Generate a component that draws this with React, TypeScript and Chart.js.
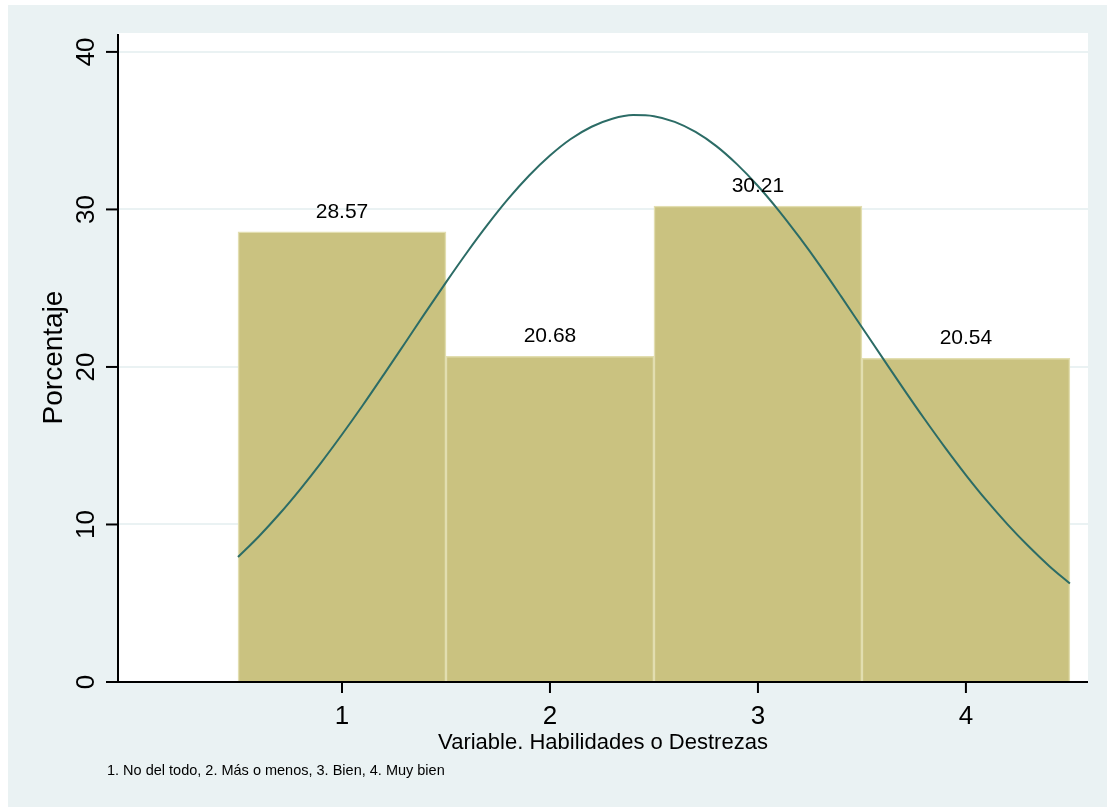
import React, { useEffect, useRef } from "react";
import { Chart, registerables } from "chart.js";

Chart.register(...registerables);

const categories = [1, 2, 3, 4];
const percentages = [28.57, 20.68, 30.21, 20.54];
const yTicks = [0, 10, 20, 30, 40];
const xTicks = [1, 2, 3, 4];
const curveX = [
  0.5, 0.6, 0.7, 0.8, 0.9, 1.0, 1.1, 1.2, 1.3, 1.4, 1.5, 1.6, 1.7, 1.8, 1.9, 2.0, 2.1, 2.2, 2.3, 2.4, 2.5,
  2.6, 2.7, 2.8, 2.9, 3.0, 3.1, 3.2, 3.3, 3.4, 3.5, 3.6, 3.7, 3.8, 3.9, 4.0, 4.1, 4.2, 4.3, 4.4, 4.5,
];
const curveY = [
  7.93, 9.24, 10.68, 12.25, 13.93, 15.71, 17.57, 19.5, 21.46, 23.43, 25.37, 27.25, 29.03, 30.68, 32.15,
  33.42, 34.47, 35.25, 35.76, 35.99, 35.92, 35.56, 34.92, 34.02, 32.86, 31.49, 29.93, 28.22, 26.4, 24.48,
  22.52, 20.56, 18.61, 16.71, 14.88, 13.14, 11.51, 10.01, 8.63, 7.37, 6.25,
];
const yTitle = "Porcentaje";
const xTitle = "Variable. Habilidades o Destrezas";
const note = "1. No del todo, 2. Más o menos, 3. Bien, 4. Muy bien";

const BG = "rgb(234,242,243)";
const FONT = "'Liberation Sans', Arial, Helvetica, sans-serif";

const stataPlugin = {
  id: "stata",
  beforeDraw(chart: any) {
    const { ctx, width, height, chartArea: ca } = chart;
    ctx.save();
    ctx.fillStyle = BG;
    ctx.fillRect(0, 0, width, height);
    ctx.fillStyle = "#ffffff";
    ctx.fillRect(ca.left, ca.top, ca.right - ca.left, ca.bottom - ca.top);
    ctx.restore();
  },
  afterDraw(chart: any) {
    const { ctx, chartArea: ca } = chart;
    const xs = chart.scales.x;
    const ys = chart.scales.y;
    ctx.save();
    ctx.strokeStyle = "#000";
    ctx.fillStyle = "#000";
    ctx.lineWidth = 2;
    // axis lines
    ctx.beginPath();
    ctx.moveTo(ca.left, ca.top + 1);
    ctx.lineTo(ca.left, ca.bottom);
    ctx.lineTo(ca.right, ca.bottom);
    ctx.stroke();
    // y ticks + labels
    ctx.font = `26px ${FONT}`;
    ctx.textAlign = "center";
    ctx.textBaseline = "alphabetic";
    yTicks.forEach((v) => {
      const py = ys.getPixelForValue(v);
      ctx.beginPath();
      ctx.moveTo(ca.left - 12, py);
      ctx.lineTo(ca.left, py);
      ctx.stroke();
      ctx.save();
      ctx.translate(ca.left - 24, py);
      ctx.rotate(-Math.PI / 2);
      ctx.fillText(String(v), 0, 0);
      ctx.restore();
    });
    // x ticks + labels
    xTicks.forEach((v) => {
      const px = xs.getPixelForValue(v);
      ctx.beginPath();
      ctx.moveTo(px, ca.bottom);
      ctx.lineTo(px, ca.bottom + 11);
      ctx.stroke();
      ctx.fillText(String(v), px, ca.bottom + 42);
    });
    // y title
    ctx.font = `28px ${FONT}`;
    ctx.save();
    ctx.translate(ca.left - 56, (ca.top + ca.bottom) / 2);
    ctx.rotate(-Math.PI / 2);
    ctx.fillText(yTitle, 0, 0);
    ctx.restore();
    // x title
    ctx.font = `22px ${FONT}`;
    ctx.fillText(xTitle, (ca.left + ca.right) / 2, ca.bottom + 67);
    // note
    ctx.font = `14.5px ${FONT}`;
    ctx.textAlign = "left";
    ctx.fillText(note, ca.left - 11, ca.bottom + 93);
    // data labels
    ctx.font = `21px ${FONT}`;
    ctx.textAlign = "center";
    categories.forEach((c, i) => {
      const px = xs.getPixelForValue(c);
      const py = ys.getPixelForValue(percentages[i]);
      ctx.fillText(percentages[i].toFixed(2), px, py - 14);
    });
    ctx.restore();
  },
};

export default function App() {
  const ref = useRef<HTMLCanvasElement | null>(null);
  useEffect(() => {
    if (!ref.current) return;
    const chart = new Chart(ref.current, {
      type: "bar",
      data: {
        datasets: [
          {
            type: "line",
            data: curveX.map((x, i) => ({ x, y: curveY[i] })),
            borderColor: "rgb(44,108,102)",
            borderWidth: 2,
            pointRadius: 0,
            cubicInterpolationMode: "monotone",
            fill: false,
            order: 0,
          } as any,
          {
            type: "bar",
            data: categories.map((c, i) => ({ x: c, y: percentages[i] })),
            backgroundColor: "rgb(202,194,128)",
            borderColor: "rgb(226,222,176)",
            borderWidth: 1.5,
            barPercentage: 1,
            categoryPercentage: 1,
            order: 1,
          } as any,
        ],
      },
      options: {
        animation: false,
        responsive: true,
        maintainAspectRatio: false,
        layout: { padding: { left: 110, right: 19, top: 28, bottom: 125 } },
        plugins: { legend: { display: false }, tooltip: { enabled: false } },
        scales: {
          x: {
            type: "linear",
            min: -0.077,
            max: 4.587,
            offset: false,
            grid: { display: false, offset: false },
            border: { display: false },
            ticks: { display: false },
            afterBuildTicks: (s: any) => {
              s.ticks = xTicks.map((v) => ({ value: v }));
            },
            afterFit: (s: any) => {
              s.height = 0;
            },
          },
          y: {
            type: "linear",
            min: 0,
            max: 41.2,
            grid: { color: BG, lineWidth: 2, drawTicks: false },
            border: { display: false },
            ticks: { display: false },
            afterBuildTicks: (s: any) => {
              s.ticks = yTicks.filter((v) => v > 0).map((v) => ({ value: v }));
            },
            afterFit: (s: any) => {
              s.width = 0;
            },
          },
        } as any,
      },
      plugins: [stataPlugin],
    });
    return () => chart.destroy();
  }, []);
  return (
    <div style={{ position: "absolute", left: 8, top: 5, width: 1099, height: 802 }}>
      <canvas ref={ref} />
    </div>
  );
}
